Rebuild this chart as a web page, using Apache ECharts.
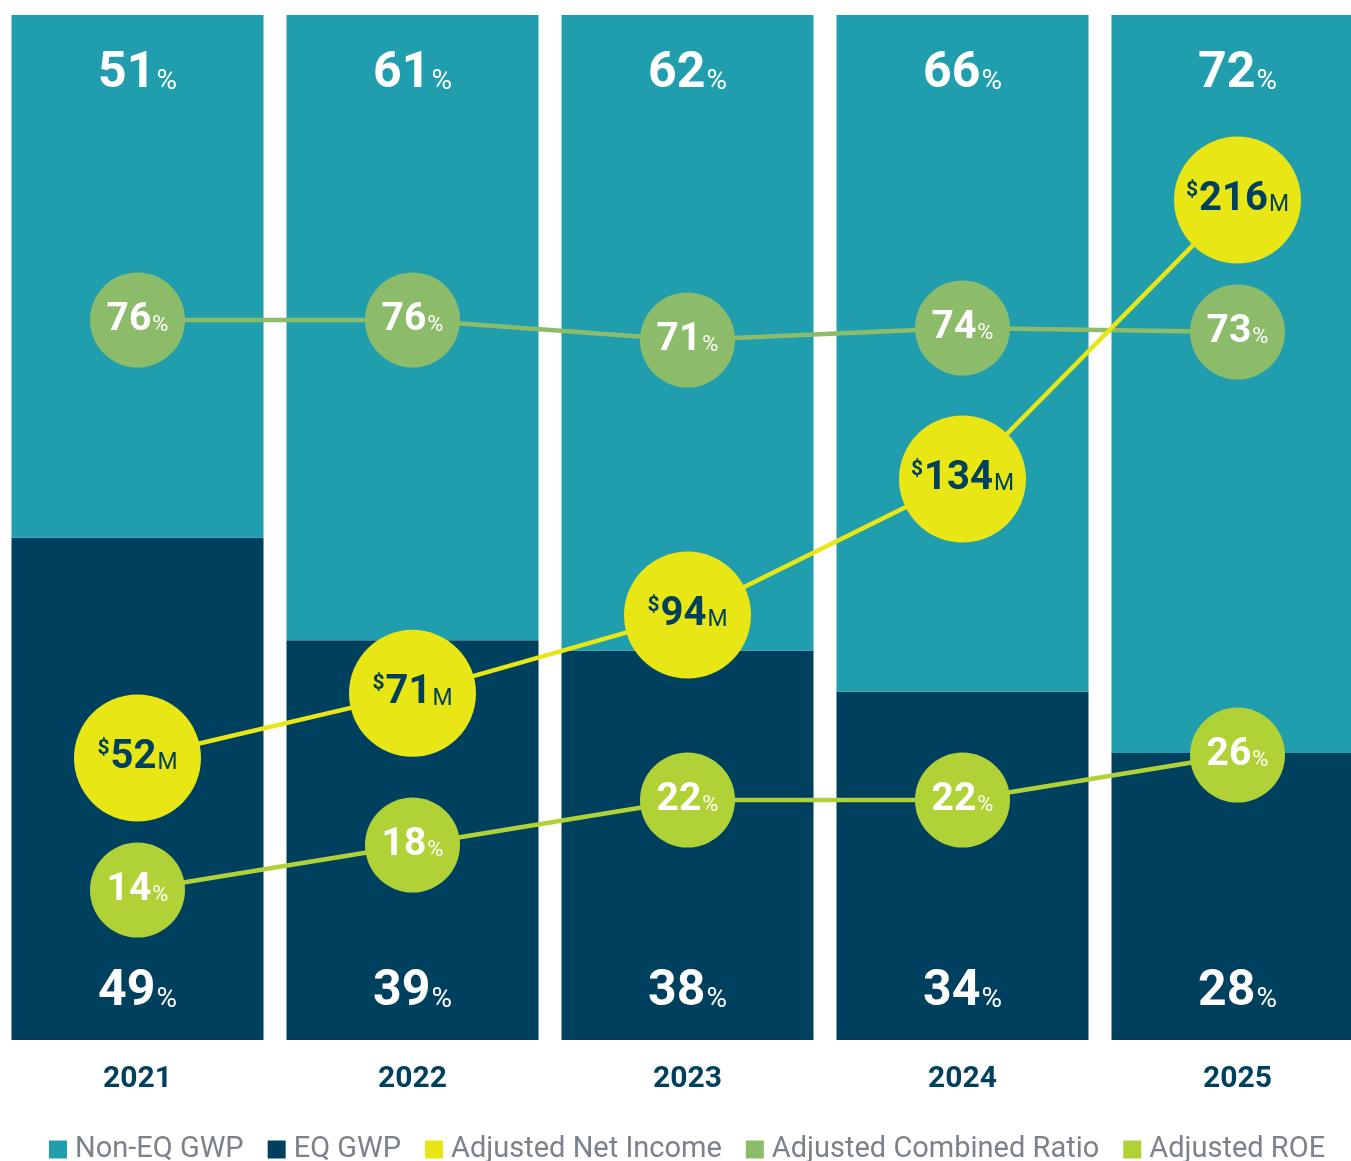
<!DOCTYPE html>
<html><head><meta charset="utf-8">
<script src="https://cdn.jsdelivr.net/npm/echarts@6/dist/echarts.min.js"></script>
<style>html,body{margin:0;padding:0;background:#fff}#c{width:1351px;height:1161px}</style>
</head><body><div id="c"></div>
<script>
const years = ['2021','2022','2023','2024','2025'];
const nonEqGwp = [51, 61, 62, 66, 72];
const eqGwp = [49, 39, 38, 34, 28];
const netIncome = [52, 71, 94, 134, 216];
const combinedRatio = [76, 76, 71, 74, 73];
const roe = [14, 18, 22, 22, 26];

const C = {teal:'#209eae', navy:'#00405f', yellow:'#e8e614', green:'#8cbc6a', lime:'#b1d236', legend:'#7b828a'};
const NUM = 'Roboto, "Liberation Sans", sans-serif';

const pctRich = (size, small, gap) => ({
  n:{fontSize:size, fontWeight:'bold', color:'#fff', fontFamily:NUM, verticalAlign:'bottom'},
  p:{fontSize:small, color:'#fff', fontFamily:NUM, padding:[0,0,3,gap], verticalAlign:'bottom'}
});

const chart = echarts.init(document.getElementById('c'), null, {renderer:'canvas'});
chart.setOption({
  animation:false,
  grid:{left:0, width:1375, top:15, height:1025, outerBoundsMode:'none', containLabel:false},
  legend:{
    bottom:-8, left:44, itemWidth:18, itemHeight:18, itemGap:24, icon:'rect',
    textStyle:{fontSize:29, color:C.legend, fontFamily:NUM, padding:[0,0,0,3]},
    data:['Non-EQ GWP','EQ GWP','Adjusted Net Income','Adjusted Combined Ratio','Adjusted ROE']
  },
  xAxis:{type:'category', data:years, axisLine:{show:false}, axisTick:{show:false},
    axisLabel:{fontSize:30, fontWeight:'bold', color:C.navy, fontFamily:NUM, margin:24}},
  yAxis:[
    {type:'value', min:0, max:100, show:false},
    {type:'value', min:-104, max:152.25, show:false},
    {type:'value', min:-30.9, max:270.4, show:false},
    {type:'value', min:0.67, max:91.78, show:false}
  ],
  series:[
    {name:'EQ GWP', type:'bar', stack:'g', data:eqGwp, barWidth:252, itemStyle:{color:C.navy},
      label:{show:true, position:'insideBottom', distance:23, formatter:p=>'{n|'+p.value+'}{p|%}', rich:pctRich(50,28,1)}},
    {name:'Non-EQ GWP', type:'bar', stack:'g', data:nonEqGwp, barWidth:252, itemStyle:{color:C.teal},
      label:{show:true, position:'insideTop', distance:34, formatter:p=>'{n|'+p.value+'}{p|%}', rich:pctRich(50,28,1)}},
    {name:'Adjusted ROE', type:'line', yAxisIndex:3, data:roe, symbol:'circle', symbolSize:95,
      lineStyle:{color:C.lime, width:4.5}, itemStyle:{color:C.lime},
      label:{show:true, position:'inside', formatter:p=>'{n|'+p.value+'}{p|%}', rich:pctRich(39,22,1)}},
    {name:'Adjusted Combined Ratio', type:'line', yAxisIndex:1, data:combinedRatio, symbol:'circle', symbolSize:95,
      lineStyle:{color:C.green, width:4.5}, itemStyle:{color:C.green},
      label:{show:true, position:'inside', formatter:p=>'{n|'+p.value+'}{p|%}', rich:pctRich(39,22,1)}},
    {name:'Adjusted Net Income', type:'line', yAxisIndex:2, data:netIncome, symbol:'circle', symbolSize:127,
      lineStyle:{color:C.yellow, width:4.5}, itemStyle:{color:C.yellow},
      label:{show:true, position:'inside', formatter:p=>'{d|$}{n|'+p.value+'}{m|M}',
        rich:{
          d:{fontSize:21, fontWeight:'bold', color:C.navy, fontFamily:NUM, verticalAlign:'top', padding:[0,1,0,0]},
          n:{fontSize:40, fontWeight:'bold', color:C.navy, fontFamily:NUM, verticalAlign:'bottom'},
          m:{fontSize:23, color:C.navy, fontFamily:NUM, verticalAlign:'bottom', padding:[0,0,3,1]}
        }}}
  ]
});
</script></body></html>
